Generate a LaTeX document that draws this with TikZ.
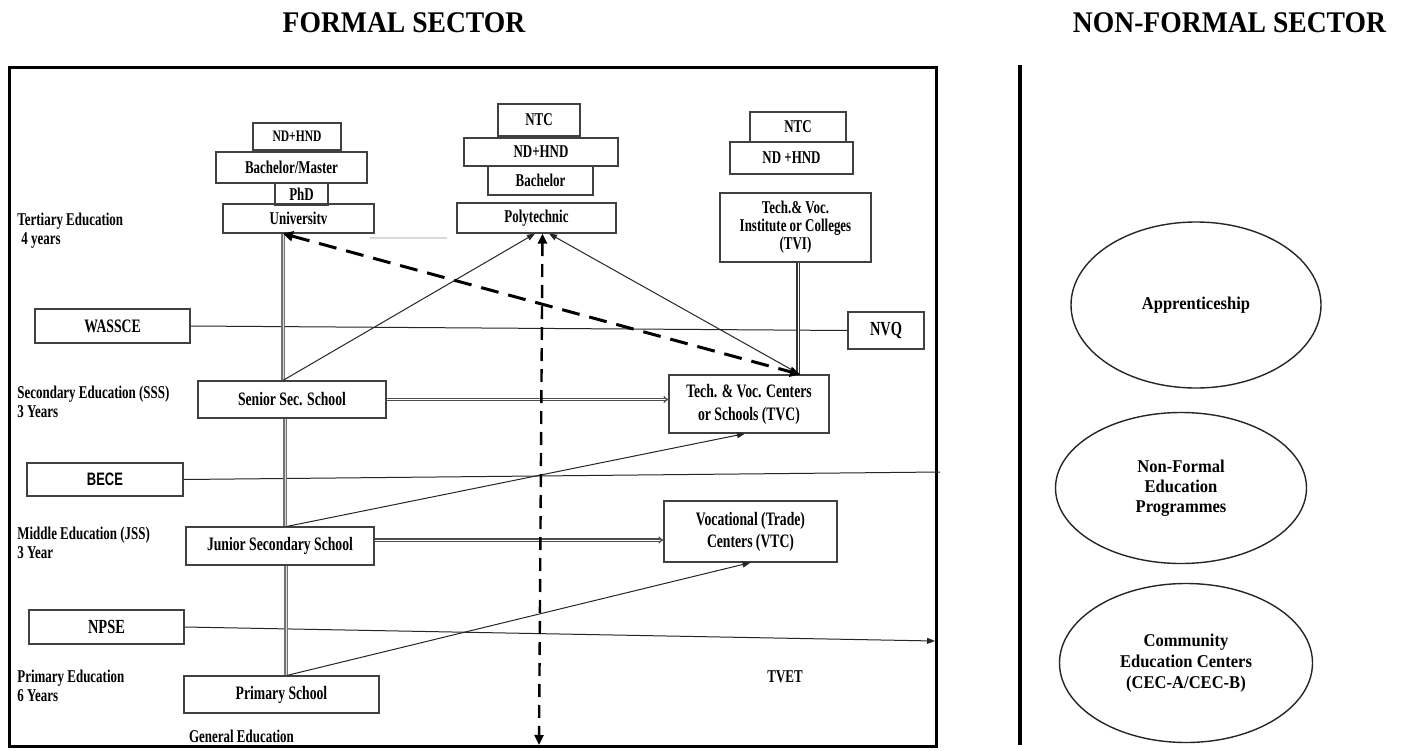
\documentclass[tikz,border=0pt]{standalone}
\usepackage{fontspec}
\setmainfont{Liberation Serif}[FakeStretch=0.72]
\newfontfamily\titlefont{Liberation Serif}[FakeStretch=0.92]
\newfontfamily\sanscond{Liberation Sans}[FakeStretch=0.72]
\usetikzlibrary{arrows.meta,shapes.geometric,calc}
\begin{document}
\begin{tikzpicture}[x=0.5pt,y=-0.5pt,
  box/.style={draw=black!75, line width=0.6pt, rectangle, inner sep=1pt, align=center,
    font=\bfseries\fontsize{9}{10}\selectfont},
  lbl/.style={anchor=west, align=left, inner sep=0pt, font=\bfseries\fontsize{9}{9.5}\selectfont},
  oval/.style={draw=black!85, line width=0.7pt, ellipse, align=center, inner sep=0pt,
    font=\titlefont\bfseries\fontsize{9}{10}\selectfont},
  ttl/.style={inner sep=0pt, font=\titlefont\bfseries\fontsize{15}{18}\selectfont},
  thin/.style={draw=black!85, line width=0.5pt},
  arr/.style={thin, -{Triangle[length=4pt,width=3pt]}},
  dbl/.style={draw=black!55, line width=0.6pt, double=white!85!black, double distance=0.5pt},
  bigdash/.style={draw=black, line width=1.5pt, dash pattern=on 9pt off 5pt,
    {Triangle[length=5pt,width=5pt]}-{Triangle[length=5pt,width=5pt]}},
  vdash/.style={draw=black, line width=1.2pt, dash pattern=on 6.5pt off 4pt,
    {Triangle[length=5pt,width=4.5pt]}-{Triangle[length=5pt,width=4.5pt]}}
]
\useasboundingbox (0,0) rectangle (1403,750);
\fill[white] (0,0) rectangle (1403,750);

% titles
\node[ttl] (tf) at (404,23) {FORMAL SECTOR};
\node[ttl] (tn) at (1229.5,23) {NON-FORMAL SECTOR};

% frame and separator
\draw[line width=1.5pt] (9,67) rectangle (936,746);
\draw[line width=2pt] (1020,65) -- (1020,745);

% left labels
\node[lbl] (lt) at (17,230.5) {Tertiary Education\\\hspace{2pt}4 years};
\node[lbl] (ls) at (17,401.5) {Secondary Education (SSS)\\3 Years};
\node[lbl] (lm) at (17,542.5) {Middle Education (JSS)\\3 Year};
\node[lbl] (lp) at (17,685.5) {Primary Education\\6 Years};
\node[lbl, anchor=center] (ge) at (241.5,736) {General Education};
\node[lbl, anchor=center] (tvet) at (785,677) {TVET};

% university column
\node[box, minimum width=44pt, minimum height=13.5pt, font=\bfseries\fontsize{8}{9}\selectfont] (und) at (297,136.5) {ND+HND};
\node[box, minimum width=75.5pt, minimum height=15.5pt] (ubm) at (291.5,167.5) {Bachelor/Master};
\node[box, minimum width=26.5pt, minimum height=11pt] (uphd) at (301.5,194) {PhD};
\node[box, minimum width=75.5pt, minimum height=14.5pt] (uni) at (298.5,218.5) {Universitv};

% polytechnic column
\node[box, minimum width=41pt, minimum height=16pt] (pntc) at (539,120) {NTC};
\node[box, minimum width=77pt, minimum height=14pt] (pnd) at (541,152) {ND+HND};
\node[box, minimum width=52.5pt, minimum height=14.5pt] (pba) at (540.5,180.5) {Bachelor};
\node[box, minimum width=79.5pt, minimum height=15pt] (poly) at (536.5,218) {Polytechnic};

% TVI column
\node[box, minimum width=48pt, minimum height=15pt] (tntc) at (798,127) {NTC};
\node[box, minimum width=61.5pt, minimum height=16pt] (tnd) at (791.5,158) {ND +HND};
\node[box, minimum width=75.5pt, minimum height=34.5pt, font=\bfseries\fontsize{9}{9}\selectfont] (tvi) at (795.5,227.5) {Tech.\& Voc.\\Institute or Colleges\\(TVI)};

% exams
\node[box, minimum width=77.5pt, minimum height=17pt, font=\bfseries\fontsize{9.5}{10}\selectfont] (was) at (112.5,326) {WASSCE};
\node[box, minimum width=38pt, minimum height=18.5pt, font=\bfseries\fontsize{10}{11}\selectfont] (nvq) at (886,330.5) {NVQ};
\node[box, minimum width=78pt, minimum height=16.5pt, font=\sanscond\bfseries\fontsize{9}{10}\selectfont] (bece) at (105,479.5) {BECE};
\node[box, minimum width=77.5pt, minimum height=17pt, font=\bfseries\fontsize{10}{11}\selectfont] (npse) at (106.5,627) {NPSE};

% schools
\node[box, minimum width=94pt, minimum height=18.5pt, font=\bfseries\fontsize{9.5}{10}\selectfont] (sen) at (292,399.5) {Senior Sec. School};
\node[box, minimum width=94pt, minimum height=19pt, font=\bfseries\fontsize{9.5}{10}\selectfont] (jss) at (280,546) {Junior Secondary School};
\node[box, minimum width=97.5pt, minimum height=18.5pt, font=\bfseries\fontsize{9.5}{10}\selectfont] (prim) at (281.5,694.5) {Primary School};
\node[box, minimum width=80pt, minimum height=29pt, font=\bfseries\fontsize{9.5}{11.5}\selectfont] (tvc) at (749,404) {Tech. \& Voc. Centers\\or Schools (TVC)};
\node[box, minimum width=86.5pt, minimum height=30.5pt, font=\bfseries\fontsize{9.5}{11}\selectfont] (vtc) at (750.5,531.5) {Vocational (Trade)\\Centers (VTC)};

% non-formal sector
\node[oval, minimum width=125pt, minimum height=83pt] (app) at (1196,305) {Apprenticeship};
\node[oval, minimum width=125.5pt, minimum height=75.5pt] (nfe) at (1181,488) {Non-Formal\\Education\\Programmes};
\node[oval, minimum width=126.5pt, minimum height=79.5pt, font=\titlefont\bfseries\fontsize{9}{10.5}\selectfont] (cec) at (1186,663) {Community\\Education Centers\\(CEC-A/CEC-B)};

% free ends
\coordinate (fbot) at (539,745);
\coordinate (becend) at (940,472);
\coordinate (npend) at (935,641);

% faint stray line
\draw[black!15, line width=0.8pt] (370,238) -- (447,238);

% exam lines
\draw[thin] (was.east) -- (nvq.west);
\draw[thin] (bece.east) -- (becend);
\draw[arr] (npse.east) -- (npend);

% vertical double lines
\draw[dbl] ([xshift=-7.75pt]uni.south) -- ([xshift=-4.5pt]sen.north);
\draw[dbl] ([xshift=-3.5pt]sen.south) -- ([xshift=2.5pt]jss.north);
\draw[dbl] ([xshift=3pt]jss.south) -- ([xshift=2.25pt]prim.north);
\draw[dbl, draw=black!80, double=white] ([xshift=1.25pt]tvi.south) -- ([xshift=24.5pt]tvc.north);

% horizontal double arrows
\draw[dbl, draw=black!70, double=white, -{Implies}] (sen.east) -- (sen.east -| tvc.west);
\draw[dbl, draw=black!70, double=white, -{Implies}] ([yshift=3pt]jss.east) -- ([yshift=3pt]jss.east -| vtc.west);

% thin arrows
\draw[arr] ([xshift=-4.5pt]sen.north) -- ([xshift=-0.75pt]poly.south);
\draw[arr] ([xshift=25.5pt]tvc.north) -- ([xshift=6.25pt]poly.south);
\draw[arr] ([xshift=3.5pt]jss.north) -- ([xshift=-2pt]tvc.south);
\draw[arr] ([xshift=2.75pt]prim.north) -- (vtc.south);

% dashed arrows
\draw[bigdash] ([xshift=-7.75pt]uni.south) -- ([xshift=25.5pt]tvc.north);
\draw[vdash] ([xshift=3pt]poly.south) -- (fbot);
\end{tikzpicture}
\end{document}
